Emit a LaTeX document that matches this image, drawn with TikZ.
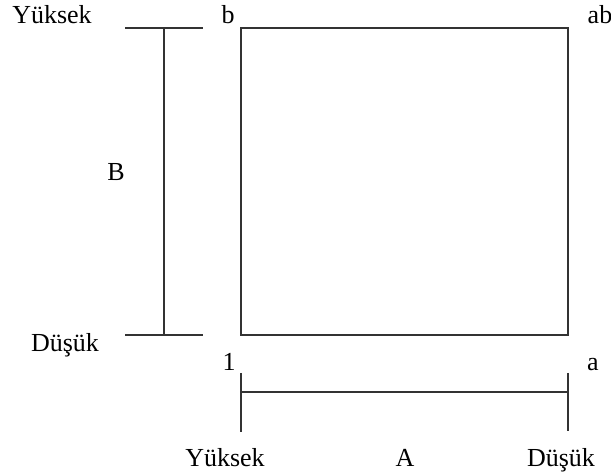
\documentclass[tikz,border=0pt]{standalone}
\usepackage{fontspec}
\setmainfont{Liberation Serif}
\begin{document}
\begin{tikzpicture}[x=0.5pt, y=-0.5pt]
% Define styles
\tikzset{
    line/.style={draw=black!80, line width=0.65pt},
    label/.style={font=\fontsize{13}{15}\selectfont, anchor=base, inner sep=0pt}
}

\useasboundingbox (0,0) rectangle (611,475);

% Corners of the square
\coordinate (b) at (241,28);
\coordinate (ab) at (568,28);
\coordinate (one) at (241,335);
\coordinate (a) at (568,335);

% Square
\draw[line] (b) -- (ab) -- (a) -- (one) -- cycle;

% Corner labels
\node[label] (lb) at (228,24) {b};
\node[label] (lab) at (600,24) {ab};
\node[label] (lone) at (229,371) {1};
\node[label] (la) at (593,371) {a};

% Scale for B
\coordinate (Btop) at (164,28);
\coordinate (Bbot) at (164,335);
\coordinate (BtopL) at (125,28);
\coordinate (BtopR) at (203,28);
\coordinate (BbotL) at (125,335);
\coordinate (BbotR) at (203,335);
\draw[line] (BtopL) -- (BtopR);
\draw[line] (BbotL) -- (BbotR);
\draw[line] (Btop) -- (Bbot);
\node[label] (hiB) at (52,24) {Yüksek};
\node[label] (loB) at (65,352) {Düşük};
\node[label, anchor=center] (B) at (116,172) {B};

% Scale for A
\coordinate (Aleft) at (241,392);
\coordinate (Aright) at (568,392);
\coordinate (AleftT) at (241,373);
\coordinate (AleftB) at (241,432);
\coordinate (ArightT) at (568,373);
\coordinate (ArightB) at (568,431);
\draw[line] (AleftT) -- (AleftB);
\draw[line] (ArightT) -- (ArightB);
\draw[line] (Aleft) -- (Aright);
\node[label] (hiA) at (225,467) {Yüksek};
\node[label] (A) at (405,467) {A};
\node[label] (loA) at (561,467) {Düşük};

\end{tikzpicture}
\end{document}
